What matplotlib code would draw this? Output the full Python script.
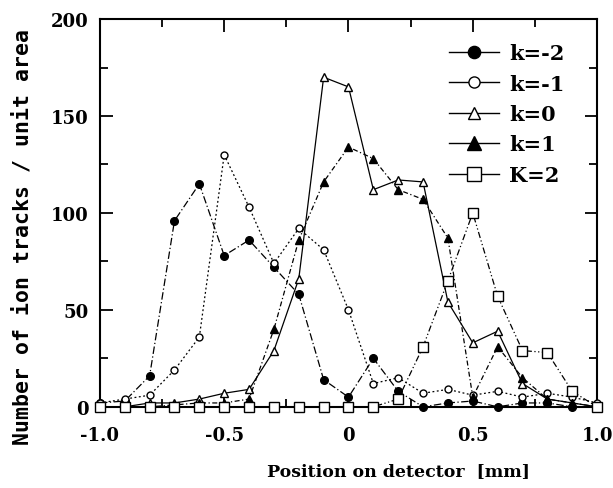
import matplotlib.pyplot as plt
from matplotlib.lines import Line2D
from matplotlib.ticker import MultipleLocator, FixedLocator

# positions on the detector [mm]
x = [-1.0, -0.9, -0.8, -0.7, -0.6, -0.5, -0.4, -0.3, -0.2, -0.1, 0.0,
     0.1, 0.2, 0.3, 0.4, 0.5, 0.6, 0.7, 0.8, 0.9, 1.0]

# number of ion tracks per unit area, one list per order
k_m2 = [2, 3, 16, 96, 115, 78, 86, 72, 58, 14, 5, 25, 8, 0, 2, 3, 0, 2, 2, 0, 0]
k_m1 = [2, 4, 6, 19, 36, 130, 103, 74, 92, 81, 50, 12, 15, 7, 9, 6, 8, 5, 7, 5, 2]
k_0 = [0, 0, 2, 2, 4, 7, 9, 29, 66, 170, 165, 112, 117, 116, 54, 33, 39, 12, 4, 2, 0]
k_p1 = [0, 0, 0, 1, 2, 2, 4, 40, 86, 116, 134, 128, 112, 107, 87, 5, 31, 15, 4, 2, 0]
k_p2 = [0, 0, 0, 0, 0, 0, 0, 0, 0, 0, 0, 0, 4, 31, 65, 100, 57, 29, 28, 8, 0]

labels = ["k=-2", "k=-1", "k=0", "k=1", "K=2"]
xtick_labels = ["-1.0", "-0.5", "0", "0.5", "1.0"]

series = [k_m2, k_m1, k_0, k_p1, k_p2]
markers = ["o", "o", "^", "^", "s"]
faces = ["black", "white", "white", "black", "white"]
sizes = [5.5, 5, 5.5, 6, 6.5]
styles = [(0, (6, 2, 1, 2)), (0, (1.5, 2)), "-", (0, (4, 2, 1, 2)),
          (0, (5, 2, 1, 2, 1, 2))]

fig = plt.figure(figsize=(6.13, 4.89), dpi=100)
ax = fig.add_axes([0.163, 0.166, 0.811, 0.793])

for y, m, fc, ms, ls in zip(series, markers, faces, sizes, styles):
    ax.plot(x, y, color="black", lw=0.9, ls=ls, marker=m, ms=ms,
            mfc=fc, mec="black", mew=1.0, clip_on=False, zorder=3)

ax.set_xlim(-1.0, 1.0)
ax.set_ylim(0, 200)
ax.xaxis.set_major_locator(FixedLocator([-1.0, -0.5, 0, 0.5, 1.0]))
ax.set_xticklabels(xtick_labels)
ax.xaxis.set_minor_locator(MultipleLocator(0.25))
ax.yaxis.set_major_locator(MultipleLocator(50))
ax.yaxis.set_minor_locator(MultipleLocator(25))

ax.tick_params(which="both", direction="in", top=True, right=True, width=1.3)
ax.tick_params(which="major", length=9)
ax.tick_params(axis="x", which="major", pad=14)
ax.tick_params(axis="y", which="major", pad=8)
ax.tick_params(which="minor", length=6)
for lab in ax.get_xticklabels() + ax.get_yticklabels():
    lab.set_family("DejaVu Serif")
    lab.set_fontweight("bold")
    lab.set_fontsize(13)
for sp in ax.spines.values():
    sp.set_linewidth(1.5)

ax.set_xlabel("Position on detector  [mm]", family="DejaVu Serif",
              fontweight="bold", fontsize=12.5)
ax.xaxis.set_label_coords(0.6, -0.142)
ax.set_ylabel("Number of ion tracks / unit area", family="DejaVu Sans Mono",
              fontweight="bold", fontsize=15.5)
ax.yaxis.set_label_coords(-0.136, 0.44)

# legend drawn with solid lines
handles = [Line2D([], [], color="black", lw=1.0, marker=m, ms=ms * 1.6,
                  mfc=fc, mec="black", mew=1.0)
           for m, fc, ms in zip(markers, faces, sizes)]
ax.legend(handles, labels, loc="upper right", frameon=False,
          bbox_to_anchor=(0.96, 0.97), handlelength=2.4, handletextpad=0.5,
          labelspacing=0.5, borderaxespad=0.2,
          prop={"family": "DejaVu Serif", "weight": "bold", "size": 15})

fig.savefig("out.png", dpi=100)
